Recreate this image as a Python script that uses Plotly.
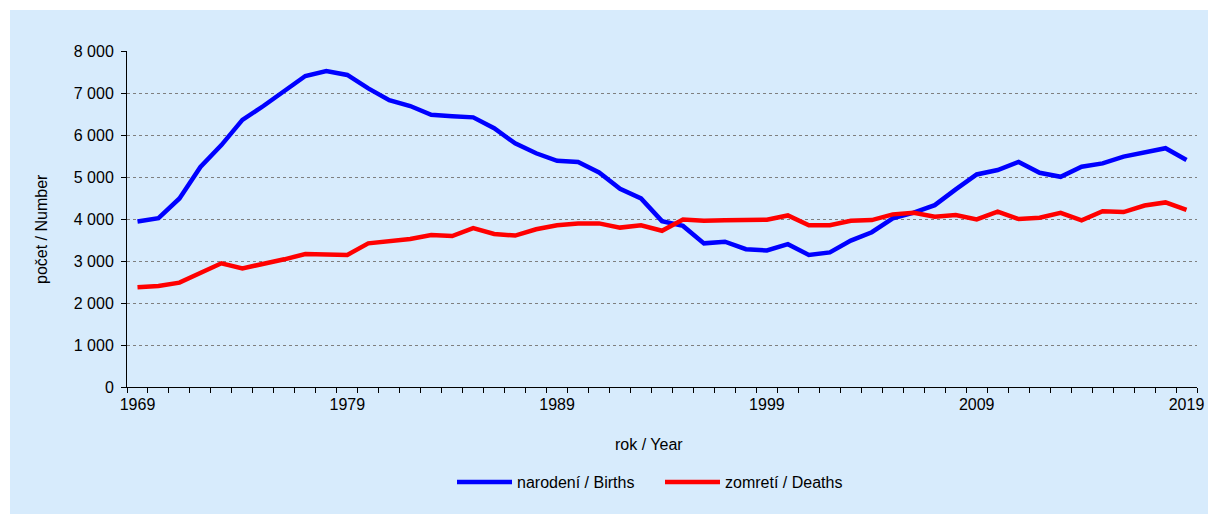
import plotly.graph_objects as go

years = list(range(1969, 2020))
births = [3940, 4020, 4490, 5240, 5760, 6360, 6690, 7050, 7405, 7525, 7430,
          7110, 6830, 6690, 6480, 6445, 6420, 6160, 5800, 5565, 5385, 5360,
          5110, 4720, 4490, 3950, 3835, 3420, 3460, 3280, 3250, 3400, 3145,
          3205, 3485, 3685, 4015, 4150, 4330, 4705, 5060, 5165, 5360, 5100,
          5005, 5245, 5325, 5485, 5590, 5685, 5405]
deaths = [2375, 2405, 2485, 2705, 2945, 2825, 2920, 3040, 3165, 3150, 3145,
          3420, 3460, 3525, 3620, 3595, 3785, 3645, 3605, 3755, 3850, 3895,
          3895, 3795, 3850, 3720, 3990, 3960, 3968, 3970, 3985, 4085, 3850,
          3850, 3960, 3975, 4110, 4150, 4055, 4095, 3990, 4175, 4000, 4030,
          4145, 3970, 4185, 4165, 4320, 4395, 4215]

series_names = ["narodení / Births", "zomretí / Deaths"]
series_colors = ["#0000FF", "#FF0000"]

y_tickvals = [0, 1000, 2000, 3000, 4000, 5000, 6000, 7000, 8000]
y_ticktext = ["0", "1 000", "2 000", "3 000", "4 000", "5 000", "6 000", "7 000", "8 000"]
x_tickvals = [1969, 1979, 1989, 1999, 2009, 2019]
x_ticktext = [str(v) for v in x_tickvals]
x_title = "rok / Year"
y_title = "počet / Number"

W, H = 1208, 514
ml, mr, mt, mb = 127, 11, 51, 127
pw, ph = W - ml - mr, H - mt - mb
base = mt + ph  # pixel y of the x axis
bg = "#D7EBFC"
font = "Liberation Sans, Arial, sans-serif"
FS = 16


def px_x(px):
    return (px - ml) / pw


def px_y(py):
    return (base - py) / ph


fig = go.Figure()
for name, vals, col in zip(series_names, [births, deaths], series_colors):
    fig.add_trace(go.Scatter(x=years, y=vals, mode="lines", name=name,
                             line=dict(color=col, width=4.5)))

white_border = [
    dict(type="rect", xref="paper", yref="paper", layer="below",
         x0=px_x(-5), x1=px_x(10), y0=px_y(H + 5), y1=px_y(-5),
         fillcolor="white", line=dict(width=0)),
    dict(type="rect", xref="paper", yref="paper", layer="below",
         x0=px_x(-5), x1=px_x(W + 5), y0=px_y(10), y1=px_y(-5),
         fillcolor="white", line=dict(width=0)),
]

fig.update_layout(
    width=W, height=H,
    margin=dict(l=ml, r=mr, t=mt, b=mb, autoexpand=False),
    paper_bgcolor=bg, plot_bgcolor=bg,
    font=dict(family=font, size=FS, color="black"),
    showlegend=True,
    legend=dict(orientation="h", x=px_x(452), xanchor="left",
                y=px_y(482), yanchor="middle",
                bgcolor="rgba(0,0,0,0)", font=dict(size=FS), itemwidth=55,
                entrywidth=138, entrywidthmode="pixels",
                tracegroupgap=0),
    shapes=white_border,
    annotations=[
        dict(text=y_title, xref="paper", yref="paper", textangle=-90,
             x=px_x(41), y=px_y(229), showarrow=False,
             xanchor="center", yanchor="middle", font=dict(size=FS)),
        dict(text=x_title, xref="paper", yref="paper",
             x=px_x(648.5), y=px_y(444), showarrow=False,
             xanchor="center", yanchor="middle", font=dict(size=FS)),
    ],
)

fig.update_xaxes(range=[1968.5, 2019.5], tickvals=x_tickvals, ticktext=x_ticktext,
                 ticks="", showgrid=False, zeroline=False, showline=True,
                 linecolor="black", linewidth=1,
                 minor=dict(tick0=1968.5, dtick=1, ticks="outside", ticklen=5,
                            tickcolor="black", tickwidth=1, showgrid=False),
                 ticklabelstandoff=3, tickfont=dict(size=FS))
fig.update_yaxes(range=[0, 8000], tickvals=y_tickvals, ticktext=y_ticktext,
                 ticks="outside", ticklen=5, tickcolor="black", tickwidth=1,
                 showgrid=True, gridcolor="#7F7F7F", gridwidth=1, griddash="dot",
                 zeroline=False, showline=True, linecolor="black", linewidth=1,
                 ticklabelstandoff=4, tickfont=dict(size=FS))

fig.write_html("out.html", config={"displayModeBar": False},
               post_script="document.body.style.margin='0';"
                           "document.body.style.overflow='hidden';"
                           "document.documentElement.style.overflow='hidden';")
